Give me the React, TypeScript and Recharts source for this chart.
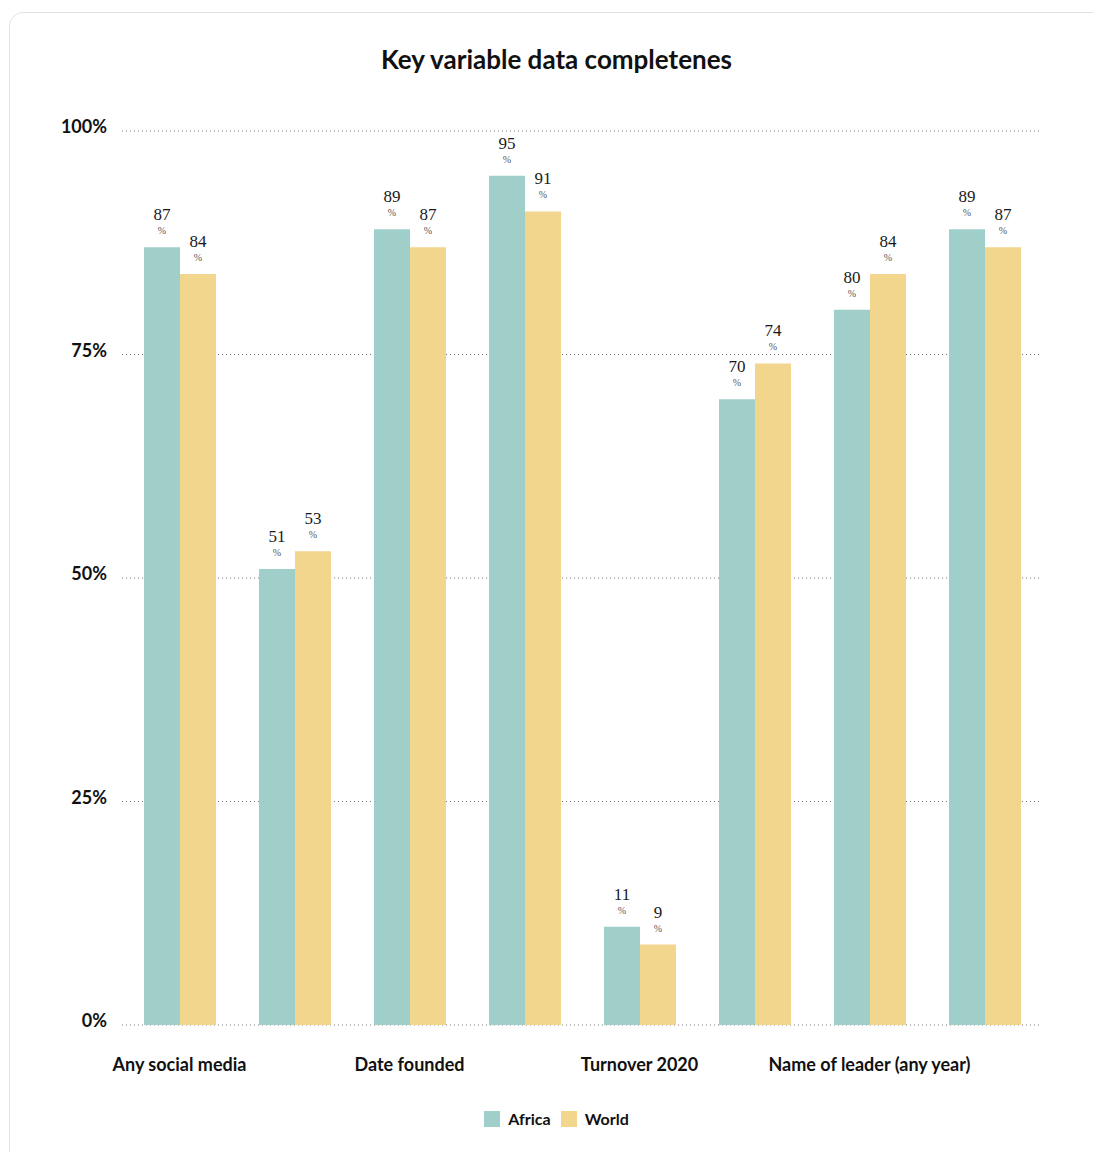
import React from 'react';
import { BarChart, Bar, XAxis, YAxis, CartesianGrid, LabelList } from 'recharts';

// Share of records with each variable filled in (%)
const categories = [
    'Any social media',
    'Website',
    'Date founded',
    'Sector',
    'Turnover 2020',
    'Number of employees',
    'Name of leader (any year)',
    'Address',
];
const africa = [87, 51, 89, 95, 11, 70, 80, 89];
const world = [84, 53, 87, 91, 9, 74, 84, 87];
const yTicks = [0, 25, 50, 75, 100];

const series = [
    { key: 'Africa', values: africa, color: '#A0CFCA' },
    { key: 'World', values: world, color: '#F2D68D' },
];

const data = categories.map((name, i) => ({
    name,
    Africa: africa[i],
    World: world[i],
}));

const SANS = 'Lato, "Open Sans", sans-serif';
const SERIF = '"Liberation Serif", "DejaVu Serif", serif';

const ValueLabel = (props: any) => {
    const { x, y, width, value } = props;
    const cx = x + width / 2;
    return (
        <g>
            <text x={cx} y={y - 27} textAnchor="middle" fontFamily={SERIF} fontSize={17} fill="#1a1a1a">
                {value}
            </text>
            <text x={cx} y={y - 13} textAnchor="middle" fontFamily={SERIF} fontSize={10} fill="#555">
                %
            </text>
        </g>
    );
};

const YTick = (props: any) => {
    const { x, y, payload } = props;
    return (
        <text x={x} y={y} dy={2} textAnchor="end" fill="#111" fontSize={18} fontWeight={700} fontFamily={SANS}>
            {`${payload.value}%`}
        </text>
    );
};

export default function App() {
    return (
        <div style={{ position: 'relative', width: 1085, height: 1144, overflow: 'hidden', fontFamily: SANS }}>
            <div
                style={{
                    position: 'absolute',
                    left: 1,
                    top: 4,
                    width: 1200,
                    height: 1300,
                    border: '1px solid #e3e3e3',
                    borderRadius: 14,
                    boxSizing: 'border-box',
                }}
            />
            <div
                style={{
                    position: 'absolute',
                    left: 0,
                    top: 35,
                    width: 1097,
                    textAlign: 'center',
                    fontSize: 26,
                    fontWeight: 700,
                    color: '#111',
                }}
            >
                Key variable data completenes
            </div>
            <div style={{ position: 'absolute', left: 0, top: 0 }}>
                <BarChart
                    width={1085}
                    height={1070}
                    data={data}
                    margin={{ top: 123, right: 51, bottom: 10, left: 0 }}
                    barGap={0}
                    barSize={36}
                >
                    <CartesianGrid vertical={false} stroke="#777" strokeDasharray="1 3" />
                    <XAxis
                        dataKey="name"
                        interval={1}
                        axisLine={false}
                        tickLine={false}
                        height={43}
                        tickMargin={27}
                        tick={{ fill: '#111', fontSize: 18, fontWeight: 700, fontFamily: SANS }}
                    />
                    <YAxis
                        domain={[0, 100]}
                        ticks={yTicks}
                        axisLine={false}
                        tickLine={false}
                        width={114}
                        tickMargin={9}
                        tick={<YTick />}
                    />
                    {series.map((s) => (
                        <Bar key={s.key} dataKey={s.key} fill={s.color} isAnimationActive={false}>
                            <LabelList dataKey={s.key} content={ValueLabel} />
                        </Bar>
                    ))}
                </BarChart>
            </div>
            <div
                style={{
                    position: 'absolute',
                    left: 0,
                    top: 1101,
                    width: 1097,
                    display: 'flex',
                    justifyContent: 'center',
                    gap: 10,
                    fontSize: 16,
                    fontWeight: 700,
                    color: '#111',
                }}
            >
                {series.map((s) => (
                    <div key={s.key} style={{ display: 'flex', alignItems: 'center', gap: 8 }}>
                        <span style={{ width: 16, height: 16, background: s.color, display: 'inline-block' }} />
                        <span>{s.key}</span>
                    </div>
                ))}
            </div>
        </div>
    );
}
